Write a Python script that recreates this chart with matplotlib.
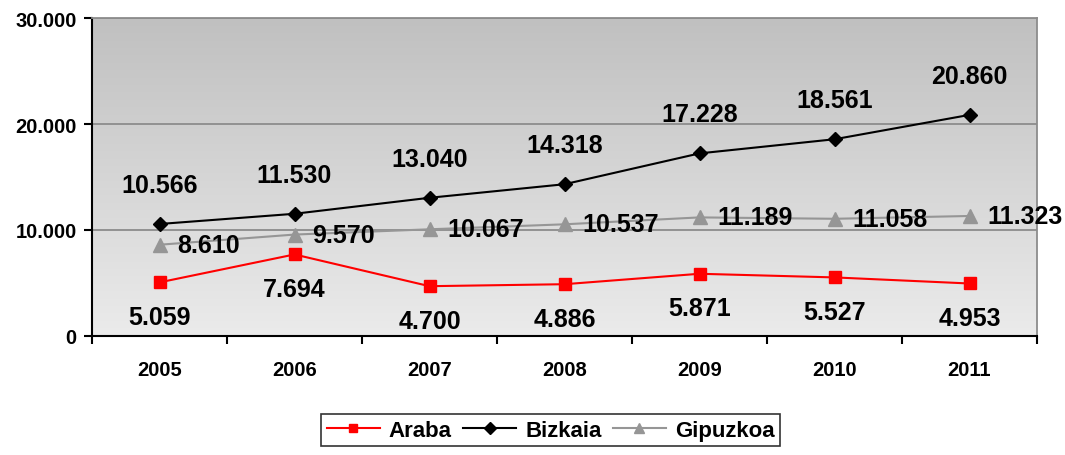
import matplotlib
matplotlib.use("Agg")
import matplotlib.pyplot as plt
import numpy as np

# data
years = ["2005", "2006", "2007", "2008", "2009", "2010", "2011"]
araba = [5059, 7694, 4700, 4886, 5871, 5527, 4953]
bizkaia = [10566, 11530, 13040, 14318, 17228, 18561, 20860]
gipuzkoa = [8610, 9570, 10067, 10537, 11189, 11058, 11323]

plt.rcParams['font.family'] = ['Liberation Sans', 'DejaVu Sans']
plt.rcParams['font.weight'] = 'bold'

def fmt(v):
    return "{:,}".format(v).replace(",", ".")

fig = plt.figure(figsize=(10.65, 4.56), dpi=100)
ax = fig.add_axes([92 / 1065, 1 - 337 / 456, 945 / 1065, 318 / 456])

x = np.arange(len(years))
ax.set_xlim(-0.5, len(years) - 0.5)
ax.set_ylim(0, 30000)

# gradient background
grad = np.linspace(0, 1, 256).reshape(-1, 1)
ax.imshow(grad, extent=[-0.5, len(years) - 0.5, 0, 30000], aspect='auto',
          cmap=matplotlib.colors.LinearSegmentedColormap.from_list('g', ['#ebebeb', '#c0c0c0']),
          origin='lower', zorder=0)

for yv in [10000, 20000, 30000]:
    ax.axhline(yv, color='#8c8c8c', lw=1.3, zorder=1)

la, = ax.plot(x, araba, color='#ff0000', lw=1.5, marker='s', ms=8.5, zorder=3, label='Araba')
lb, = ax.plot(x, bizkaia, color='black', lw=1.5, marker='D', ms=7.5, zorder=3, label='Bizkaia')
lg, = ax.plot(x, gipuzkoa, color='#969696', lw=1.5, marker='^', ms=10, zorder=3, label='Gipuzkoa')

for i in x:
    ax.annotate(fmt(bizkaia[i]), (i, bizkaia[i]), xytext=(0, 28), textcoords='offset points',
                ha='center', va='center', fontsize=18, fontweight='bold', zorder=4)
    ax.annotate(fmt(araba[i]), (i, araba[i]), xytext=(0, -25), textcoords='offset points',
                ha='center', va='center', fontsize=18, fontweight='bold', zorder=4)
    ax.annotate(fmt(gipuzkoa[i]), (i, gipuzkoa[i]), xytext=(13, 0), textcoords='offset points',
                ha='left', va='center', fontsize=18, fontweight='bold', zorder=4)

ax.set_yticks([0, 10000, 20000, 30000])
ax.set_yticklabels([fmt(v) for v in [0, 10000, 20000, 30000]], fontsize=14.5, fontweight='bold')
ax.set_xticks(x)
ax.set_xticklabels(years, fontsize=14.5, fontweight='bold')
ax.set_xticks(np.arange(-0.5, len(years)), minor=True)
ax.tick_params(axis='x', which='major', length=0, pad=17)
ax.tick_params(axis='x', which='minor', length=6, width=1.5, direction='out')
ax.tick_params(axis='y', length=6, width=1.5, direction='out', pad=5)

for s in ['left', 'bottom']:
    ax.spines[s].set_color('black')
    ax.spines[s].set_linewidth(1.5)
for s in ['top', 'right']:
    ax.spines[s].set_color('#8c8c8c')
    ax.spines[s].set_linewidth(1.3)

leg = fig.legend(handles=[la, lb, lg], loc='lower center', bbox_to_anchor=(0.517, -0.005),
                 ncol=3, fontsize=16, frameon=True, fancybox=False, handlelength=2.4,
                 columnspacing=0.5, handletextpad=0.4, borderpad=0.25, markerscale=0.75)
leg.get_frame().set_edgecolor('black')
leg.get_frame().set_linewidth(1.2)

fig.savefig('out.png', dpi=100)
